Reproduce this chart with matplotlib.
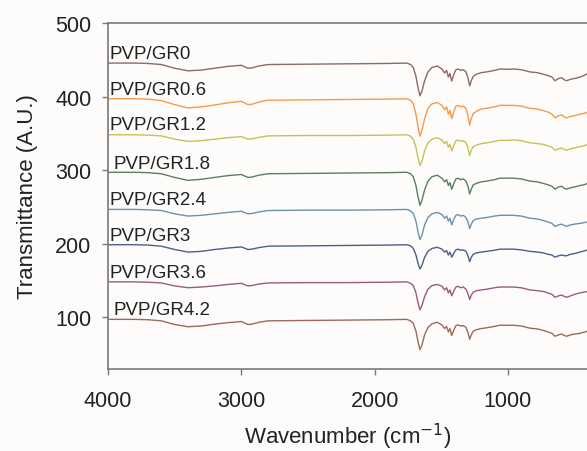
import numpy as np
from matplotlib import pyplot as plt

plt.rcParams['font.family'] = ['Liberation Sans', 'DejaVu Sans']

# wavenumber points (cm-1), shared by all spectra
wn = [4000, 3800, 3700, 3600, 3500, 3400, 3300, 3200, 3100, 3000,
      2950, 2920, 2870, 2800, 2500, 2200, 1900, 1760, 1730, 1710,
      1690, 1675, 1660, 1645, 1625, 1600, 1570, 1530, 1495, 1475,
      1460, 1447, 1435, 1422, 1405, 1390, 1375, 1355, 1335, 1315,
      1300, 1287, 1275, 1260, 1235, 1200, 1160, 1100, 1060, 1000,
      960, 900, 835, 780, 737, 700, 670, 647, 620, 597,
      575, 560, 530, 500, 460, 430, 400]

labels = ['PVP/GR0', 'PVP/GR0.6', 'PVP/GR1.2', 'PVP/GR1.8',
          'PVP/GR2.4', 'PVP/GR3', 'PVP/GR3.6', 'PVP/GR4.2']
# stacked baseline of each spectrum
baselines = [445.5, 397, 348, 297, 246.5, 198.5, 148, 97]

# transmittance change relative to baseline
gr0 = [0, 0, -0.5, -2, -7, -10.5, -9.5, -7, -4.5, -3,
       -7, -6.5, -4, -2, -1.5, -1, -0.5, 0, -2, -6,
       -18, -33, -44.5, -38, -24, -12, -6, -4, -8, -13.5,
       -10, -19, -14, -24.5, -15, -9, -8, -10, -9, -12,
       -20, -31, -24, -18, -15, -13, -12, -10, -8, -8.5,
       -8, -9, -12, -13, -15, -17, -19, -24, -21, -20,
       -23, -24, -22, -21, -19, -17, -14]
gr06 = [0, 0, -0.5, -2.5, -8, -12.5, -11, -8.5, -5.5, -3.5,
        -8, -7.5, -4.5, -2, -1.5, -1, -0.5, 0, -2, -7,
        -21, -38, -51, -43, -27, -13, -7, -5, -9, -15,
        -11, -21, -16, -27, -17, -10, -9, -11, -10, -13,
        -23, -36, -27, -20, -17, -14, -13, -11, -9, -9,
        -9, -10, -13, -14, -16, -18, -21, -26, -23, -22,
        -25, -26, -24, -23, -21, -20, -18]
gr12 = [0, 0, -0.5, -1.5, -6, -9, -8, -6, -4, -2.5,
        -6, -5.5, -3.5, -1.5, -1, -1, -0.5, 0, -2, -6,
        -17, -31, -42, -36, -22, -11, -6, -4, -7, -12,
        -9, -17, -13, -22, -14, -8, -7, -9, -8, -11,
        -18, -28, -21, -16, -14, -12, -11, -9, -7.5, -7.5,
        -7, -8, -11, -12, -13, -15, -17, -21, -19, -18,
        -20, -21, -19, -18, -16, -15, -13]
gr18 = [0, 0, -0.5, -2, -7, -11, -9.5, -7, -4.5, -3,
        -7, -6.5, -4, -2, -1.5, -1, -0.5, 0, -2, -6,
        -18, -33, -45, -38, -24, -12, -6, -4, -8, -13,
        -10, -18, -14, -23, -15, -9, -8, -10, -9, -12,
        -19, -29.5, -23, -17, -15, -13, -12, -10, -8, -8,
        -8, -9, -12, -13, -15, -17, -19, -23, -20, -19,
        -22, -23, -21, -20, -18, -17, -15]
gr24 = [0, 0, -0.5, -1.5, -6, -9, -8, -6, -4, -2.5,
        -6, -5.5, -3.5, -1.5, -1, -1, -0.5, 0, -2, -5.5,
        -16, -30, -41, -35, -21, -11, -6, -4, -7, -12,
        -9, -16, -12, -21, -13, -8, -7, -9, -8, -11,
        -17, -26, -20, -15, -13, -12, -11, -9, -8, -8,
        -8, -9, -12, -13, -15, -17, -19, -23, -21, -20,
        -22, -23, -21, -20, -19, -18, -17]
gr3 = [0, 0, -0.5, -2, -6.5, -10, -9, -6.5, -4.5, -3,
       -6.5, -6, -4, -2, -1.5, -1, -0.5, 0, -1.5, -5,
       -14, -25, -33, -28, -17, -9, -5, -3.5, -6, -10,
       -8, -14, -10, -17, -11, -7, -6, -7.5, -7, -9,
       -15, -23, -17, -13, -11, -10, -9, -7.5, -6, -6,
       -6, -7, -9, -10, -11, -13, -14, -17, -15, -14,
       -15, -15, -13, -12, -10, -8.5, -7]
gr36 = [0, 0, -0.5, -1.5, -5.5, -8, -7, -5.5, -3.5, -2,
        -5.5, -5, -3, -1.5, -1, -1, -0.5, 0, -2, -5,
        -15, -28, -38, -32, -20, -10, -5, -3.5, -6, -11,
        -8, -15, -11, -19, -12, -7, -6, -8, -7, -10,
        -16, -24, -18, -14, -12, -11, -10, -8, -7, -7,
        -7, -8, -11, -12, -13, -15, -17, -21, -19, -18,
        -20, -21, -19, -17, -15, -14, -13]
gr42 = [0, 0, -0.5, -2, -7, -10, -9, -6.5, -4.5, -3,
        -7, -6.5, -4, -2, -1.5, -1, -0.5, 0, -2, -5.5,
        -16, -30, -41, -35, -21, -11, -6, -4, -7.5, -12.5,
        -9.5, -17, -12.5, -22, -14, -8.5, -7.5, -9, -8.5, -11,
        -18, -27, -21, -16, -14, -12.5, -11.5, -9.5, -8, -8,
        -8, -9, -12, -13, -15, -17, -19, -23, -21, -20,
        -22, -23, -21, -20, -19, -17.5, -16]

spectra = [gr0, gr06, gr12, gr18, gr24, gr3, gr36, gr42]
colors = ['#8e6a62', '#f59a4c', '#c9c055', '#5a8060',
          '#6a92ad', '#4a5f8a', '#9a5a82', '#a0685a']
label_x = [3985, 3985, 3985, 3962, 3985, 3985, 3985, 3962]
label_y = [459, 409, 362, 309, 260, 211, 161, 111]

fig = plt.figure(figsize=(5.87, 4.52), dpi=100)
fig.patch.set_facecolor('#fdfcfb')
ax = fig.add_axes([108 / 587, 82 / 452, 479 / 587, 346 / 452])
ax.set_facecolor('#fdfcfb')

for spec, base, col in zip(spectra, baselines, colors):
    ax.plot(wn, np.array(spec) + base, color=col, lw=1.0)

for lab, x, y in zip(labels, label_x, label_y):
    ax.text(x, y, lab, fontsize=13.5, ha='left', va='center', color='#222222')

ax.set_xlim(4000, 407)
ax.set_ylim(29.5, 500)
ax.set_xticks([4000, 3000, 2000, 1000])
ax.set_yticks([100, 200, 300, 400, 500])

for s in ['top', 'left', 'bottom']:
    ax.spines[s].set_color('#7a7a7a')
    ax.spines[s].set_linewidth(1.2)
ax.spines['right'].set_visible(False)
ax.tick_params(colors='#7a7a7a', labelcolor='#222222', labelsize=15.5,
               length=4, width=1.0)
ax.tick_params(axis='x', pad=11)
ax.tick_params(axis='y', pad=8)

ax.set_xlabel('Wavenumber (cm$^{-1}$)', fontsize=16, color='#222222', labelpad=7)
ax.set_ylabel('Transmittance (A.U.)', fontsize=16, color='#222222', labelpad=12)

fig.savefig('out.png', dpi=100, facecolor=fig.get_facecolor())
